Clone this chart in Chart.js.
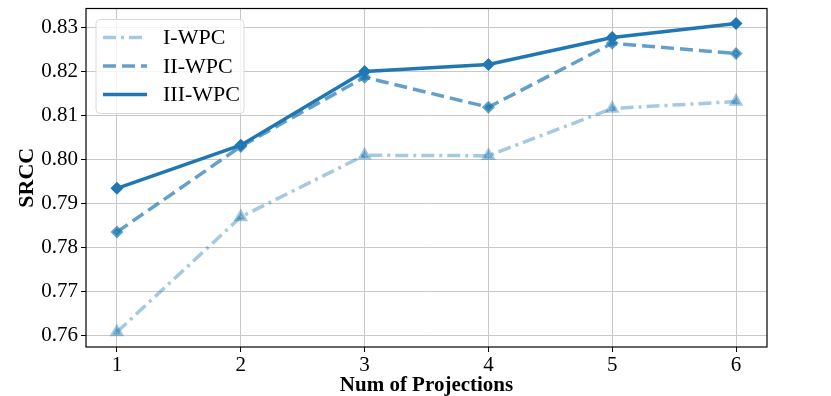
<!DOCTYPE html>
<html>
<head>
<meta charset="utf-8">
<script src="https://cdn.jsdelivr.net/npm/chart.js@4"></script>
<style>
  html, body { margin: 0; padding: 0; background: #fff; }
  #wrap { width: 831px; height: 396px; }
</style>
</head>
<body>
<div id="wrap"><canvas id="chart" width="831" height="396"></canvas></div>
<script>
// data
const projections = [1, 2, 3, 4, 5, 6]
const labels = ["I-WPC", "II-WPC", "III-WPC"]
const iWpc = [0.7609, 0.7870, 0.8010, 0.8009, 0.8116, 0.8132]
const iiWpc = [0.7836, 0.8030, 0.8187, 0.8119, 0.8264, 0.8241]
const iiiWpc = [0.7935, 0.8033, 0.8200, 0.8216, 0.8277, 0.8309]
const yTicks = [0.76, 0.77, 0.78, 0.79, 0.80, 0.81, 0.82, 0.83]

const serif = "'Liberation Serif', 'DejaVu Serif', serif"

function pts(arr) {
    return arr.map((v, i) => ({ x: projections[i], y: v }))
}

// legend drawn inside the axes with a rounded frame
const innerLegend = {
    id: 'innerLegend',
    afterDraw(chart) {
        const ctx = chart.ctx
        const a = chart.chartArea
        // axes frame
        ctx.save()
        ctx.strokeStyle = '#000'
        ctx.lineWidth = 1.2
        ctx.strokeRect(a.left, a.top, a.right - a.left, a.bottom - a.top)

        const x0 = a.left + 10, y0 = a.top + 11, w = 148, h = 94
        ctx.fillStyle = 'rgba(255,255,255,0.8)'
        ctx.strokeStyle = '#d9d9d9'
        ctx.lineWidth = 1
        ctx.beginPath()
        ctx.roundRect(x0, y0, w, h, 4)
        ctx.fill()
        ctx.stroke()

        ctx.font = "22px " + serif
        ctx.textBaseline = 'middle'
        chart.data.datasets.forEach((ds, i) => {
            const yy = y0 + 18 + i * 28.5
            ctx.strokeStyle = ds.borderColor
            ctx.lineWidth = ds.borderWidth
            ctx.setLineDash(ds.borderDash || [])
            ctx.beginPath()
            ctx.moveTo(x0 + 7, yy)
            ctx.lineTo(x0 + 51, yy)
            ctx.stroke()
            ctx.setLineDash([])
            ctx.fillStyle = '#000'
            ctx.fillText(ds.label, x0 + 67, yy + 1)
        })
        ctx.restore()
    }
}

new Chart(document.getElementById('chart').getContext('2d'), {
    type: 'line',
    data: {
        datasets: [
            {
                label: labels[0],
                data: pts(iWpc),
                borderColor: 'rgba(31,119,180,0.4)',
                backgroundColor: 'rgba(31,119,180,0.4)',
                borderWidth: 3.5,
                borderDash: [13, 5, 3, 5],
                pointStyle: 'triangle',
                pointRadius: 5
            },
            {
                label: labels[1],
                data: pts(iiWpc),
                borderColor: 'rgba(31,119,180,0.7)',
                backgroundColor: 'rgba(31,119,180,0.7)',
                borderWidth: 3.5,
                borderDash: [13, 6],
                pointStyle: 'rectRot',
                pointRadius: 4
            },
            {
                label: labels[2],
                data: pts(iiiWpc),
                borderColor: 'rgb(31,119,180)',
                backgroundColor: 'rgb(31,119,180)',
                borderWidth: 3.5,
                pointStyle: 'rectRot',
                pointRadius: 4
            }
        ]
    },
    options: {
        responsive: false,
        animation: false,
        layout: { padding: { top: 8, right: 64, left: 0, bottom: 0 } },
        plugins: {
            legend: { display: false },
            tooltip: { enabled: false }
        },
        scales: {
            x: {
                type: 'linear',
                min: 0.75,
                max: 6.25,
                afterBuildTicks: s => { s.ticks = projections.map(v => ({ value: v })) },
                afterFit: s => { s.height = 49; s.paddingLeft = 0; s.paddingRight = 0 },
                grid: { color: '#c8c8c8', lineWidth: 1, tickLength: 5, tickColor: '#000' },
                border: { display: false },
                ticks: { color: '#000', font: { family: serif, size: 21 }, padding: 1 },
                title: {
                    display: true,
                    text: 'Num of Projections',
                    color: '#000',
                    font: { family: serif, size: 21, weight: 'bold', lineHeight: 1 },
                    padding: { top: 0, bottom: 0 }
                }
            },
            y: {
                min: 0.7575,
                max: 0.8343,
                afterBuildTicks: s => { s.ticks = yTicks.map(v => ({ value: v })) },
                afterFit: s => { s.width = 86; s.paddingTop = 0; s.paddingBottom = 0 },
                grid: { color: '#c8c8c8', lineWidth: 1, tickLength: 5, tickColor: '#000' },
                border: { display: false },
                ticks: {
                    color: '#000',
                    font: { family: serif, size: 21 },
                    padding: 3,
                    callback: v => v.toFixed(2)
                },
                title: {
                    display: true,
                    text: 'SRCC',
                    color: '#000',
                    font: { family: serif, size: 22, weight: 'bold', lineHeight: 1.2 },
                    padding: { top: 14, bottom: 0 }
                }
            }
        }
    },
    plugins: [innerLegend]
})
</script>
</body>
</html>
